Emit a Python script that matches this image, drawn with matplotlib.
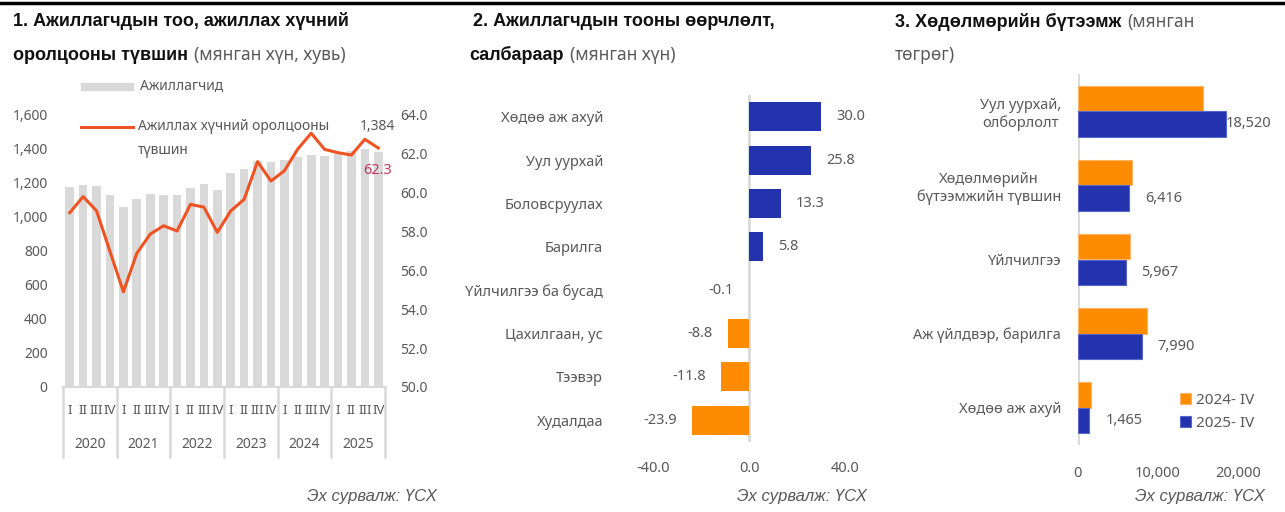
import matplotlib
matplotlib.use("Agg")
import matplotlib.pyplot as plt
from matplotlib.lines import Line2D
from matplotlib.patches import Rectangle
import numpy as np

plt.rcParams["font.family"] = ["Noto Sans", "DejaVu Sans"]

W, H = 1285, 512
GRAY_TXT = "#595959"
GRID = "#d9d9d9"
BLUE = "#2233ad"
ORANGE = "#ff8c00"

# ---- panel 1: employed (bars) and participation rate (line)
years = ["2020", "2021", "2022", "2023", "2024", "2025"]
quarters = ["I", "II", "III", "IV"]
employed = [1175, 1188, 1180, 1127, 1057, 1108, 1137, 1129, 1129, 1169, 1194, 1161,
            1257, 1282, 1331, 1325, 1335, 1351, 1365, 1357, 1374, 1390, 1398, 1384]
participation = [58.97, 59.8, 59.07, 56.98, 54.9, 56.88, 57.87, 58.3, 58.03, 59.4, 59.26, 57.96,
                 59.06, 59.66, 61.6, 60.6, 61.13, 62.25, 63.06, 62.23, 62.06, 61.94, 62.75, 62.3]

# ---- panel 2: change in employment by sector
sectors = ["Хөдөө аж ахуй", "Уул уурхай", "Боловсруулах", "Барилга",
           "Үйлчилгээ ба бусад", "Цахилгаан, ус", "Тээвэр", "Худалдаа"]
change = [30.0, 25.8, 13.3, 5.8, -0.1, -8.8, -11.8, -23.9]

# ---- panel 3: labour productivity
prod_cats = ["Уул уурхай,\nолборлолт", "Хөдөлмөрийн\nбүтээмжийн түвшин", "Үйлчилгээ",
             "Аж үйлдвэр, барилга", "Хөдөө аж ахуй"]
prod_2024 = [15580, 6830, 6550, 8630, 1710]
prod_2025 = [18520, 6416, 5967, 7990, 1465]
series_names = ["2024- IV", "2025- IV"]


def fx(x):
    return x / W


def fy(y):
    return 1 - y / H


def ax_rect(x0, y0, x1, y1):
    return [fx(x0), fy(y1), fx(x1) - fx(x0), fy(y0) - fy(y1)]


fig = plt.figure(figsize=(W / 100, H / 100), dpi=100)
renderer = fig.canvas.get_renderer()

# top rule
fig.add_artist(Line2D([0, 1], [fy(3), fy(3)], color="black", lw=2.5,
                      transform=fig.transFigure))

BOLD_FAMILY = ["Liberation Sans", "DejaVu Sans"]


def title(x, y, bold, light, size=13):
    t = fig.text(fx(x), fy(y), bold, fontsize=size, color="#111111",
                 family=BOLD_FAMILY, fontweight="bold", va="center", ha="left")
    if light:
        bb = t.get_window_extent(renderer=renderer)
        fig.text(bb.x1 / W + fx(6), fy(y), light, fontsize=12.5, color=GRAY_TXT,
                 va="center", ha="left")


def source(xr, y):
    fig.text(fx(xr), fy(y), "Эх сурвалж: ҮСХ", fontsize=12, color=GRAY_TXT,
             family=["Liberation Sans", "DejaVu Sans"], style="italic",
             ha="right", va="center")


title(13, 21, "1. Ажиллагчдын тоо, ажиллах хүчний", None)
title(13, 55, "оролцооны түвшин", "(мянган хүн, хувь)")
title(473, 22, "2. Ажиллагчдын тооны өөрчлөлт,", None)
title(469, 55, "салбараар", "(мянган хүн)")
title(895, 22, "3. Хөдөлмөрийн бүтээмж", "(мянган")
fig.text(fx(895), fy(55), "төгрөг)", fontsize=12.5, color=GRAY_TXT, va="center")
source(437, 497)
source(867, 497)
source(1265, 497)

# ================= panel 1
ax1 = fig.add_axes(ax_rect(63, 115, 385, 387))
x = np.arange(len(employed))
ax1.bar(x, employed, width=0.65, color=GRID, zorder=1)
ax1.set_xlim(-0.5, len(employed) - 0.5)
ax1.set_ylim(0, 1600)
ax1.set_yticks(range(0, 1601, 200))
ax1.set_yticklabels([f"{v:,}" for v in range(0, 1601, 200)])
ax1.set_xticks(x)
ax1.set_xticklabels(quarters * len(years))
ax1.tick_params(axis="x", length=0, pad=12, labelsize=9.5, labelcolor=GRAY_TXT)
ax1.tick_params(axis="y", length=0, pad=11, labelsize=10, labelcolor=GRAY_TXT)
for s in ["top", "right", "left"]:
    ax1.spines[s].set_visible(False)
ax1.spines["bottom"].set_color(GRID)
ax1.spines["bottom"].set_linewidth(1.5)

xt = ax1.get_xaxis_transform()
for i, yr in enumerate(years):
    ax1.text(4 * i + 1.5, -0.213, yr, transform=xt, ha="center", va="center",
             fontsize=10, color=GRAY_TXT)
for k in range(len(years) + 1):
    ax1.plot([4 * k - 0.5] * 2, [0, -0.257], transform=xt, color=GRID, lw=1.8,
             clip_on=False)

ax1b = ax1.twinx()
ax1b.plot(x, participation, color="#ef5322", lw=2.2, zorder=3)
ax1b.set_ylim(50, 64)
ax1b.set_yticks(np.arange(50, 64.1, 2))
ax1b.set_yticklabels([f"{v:.1f}" for v in np.arange(50, 64.1, 2)])
ax1b.tick_params(axis="y", length=0, pad=11, labelsize=10, labelcolor=GRAY_TXT)
for s in ["top", "right", "left", "bottom"]:
    ax1b.spines[s].set_visible(False)

ax1.annotate(f"{employed[-1]:,}", (x[-1], employed[-1]), xytext=(-1, 25),
             textcoords="offset pixels", ha="center", va="center", fontsize=10,
             color=GRAY_TXT)
ax1b.annotate(f"{participation[-1]:.1f}", (x[-1], participation[-1]), xytext=(-1, -22),
              textcoords="offset pixels", ha="center", va="center", fontsize=10.5,
              color="#c0395a")

# manual legend (panel 1)
fig.add_artist(Rectangle((fx(81), fy(90)), fx(52), fy(83) - fy(90), color=GRID,
                         transform=fig.transFigure))
fig.text(fx(140), fy(86), "Ажиллагчид", fontsize=10, color=GRAY_TXT, va="center")
fig.add_artist(Line2D([fx(81), fx(133)], [fy(127), fy(127)], color="#ef5322", lw=2.2,
                      transform=fig.transFigure))
fig.text(fx(138), fy(127), "Ажиллах хүчний оролцооны", fontsize=10, color=GRAY_TXT,
         va="center")
fig.text(fx(138), fy(150), "түвшин", fontsize=10, color=GRAY_TXT, va="center")

# ================= panel 2
ax2 = fig.add_axes(ax_rect(653, 95, 845, 442))
y2 = np.arange(len(sectors))
cols = [BLUE if v >= 0 else ORANGE for v in change]
ax2.barh(y2, change, height=0.67, color=cols)
ax2.set_xlim(-40, 40)
ax2.set_ylim(len(sectors) - 0.5, -0.5)
ax2.axvline(0, color=GRID, lw=2, zorder=0)
ax2.set_xticks([-40, 0, 40])
ax2.set_xticklabels([f"{v:.1f}" for v in [-40, 0, 40]])
ax2.set_yticks(y2)
ax2.set_yticklabels(sectors)
ax2.tick_params(axis="x", length=0, pad=14, labelsize=10.5, labelcolor=GRAY_TXT)
ax2.tick_params(axis="y", length=0, pad=36, labelsize=10.5, labelcolor=GRAY_TXT)
for s in ax2.spines.values():
    s.set_visible(False)
for yi, v in zip(y2, change):
    ax2.annotate(f"{v:.1f}", (v, yi), xytext=(15 if v >= 0 else -15, 0),
                 textcoords="offset pixels", ha="left" if v >= 0 else "right",
                 va="center", fontsize=10.5, color=GRAY_TXT)

# ================= panel 3
ax3 = fig.add_axes(ax_rect(1077.7, 74, 1238, 445))
y3 = np.arange(len(prod_cats))
h = 0.345
ax3.barh(y3 - h / 2, prod_2024, height=h, color=ORANGE, edgecolor="#ffb366", lw=0.8,
         label=series_names[0])
ax3.barh(y3 + h / 2, prod_2025, height=h, color=BLUE, edgecolor="#5566cc", lw=0.8,
         label=series_names[1])
ax3.set_xlim(0, 20000)
ax3.set_ylim(len(prod_cats) - 0.5, -0.5)
ax3.axvline(0, color=GRID, lw=2, zorder=0)
ax3.set_xticks([0, 10000, 20000])
ax3.set_xticklabels([f"{v:,}" for v in [0, 10000, 20000]])
ax3.set_yticks(y3)
ax3.set_yticklabels(prod_cats)
for lbl in ax3.get_yticklabels():
    lbl.set_multialignment("center")
ax3.tick_params(axis="x", length=0, pad=15, labelsize=10.5, labelcolor=GRAY_TXT)
ax3.tick_params(axis="y", length=0, pad=12, labelsize=10.5, labelcolor=GRAY_TXT)
for s in ax3.spines.values():
    s.set_visible(False)
for yi, v in zip(y3, prod_2025):
    pad = 0 if v > 15000 else 16
    ax3.annotate(f"{v:,}", (v, yi + h / 2), xytext=(pad, 0), textcoords="offset pixels",
                 ha="left", va="center", fontsize=10.5, color=GRAY_TXT)
ax3.legend(loc="upper left", bbox_to_anchor=(fx(1180), fy(393)),
           bbox_transform=fig.transFigure, frameon=False, fontsize=11,
           handlelength=0.75, handleheight=0.75, handletextpad=0.3, labelspacing=0.5,
           borderpad=0, borderaxespad=0, labelcolor=GRAY_TXT)

fig.savefig("out.png", dpi=100)
